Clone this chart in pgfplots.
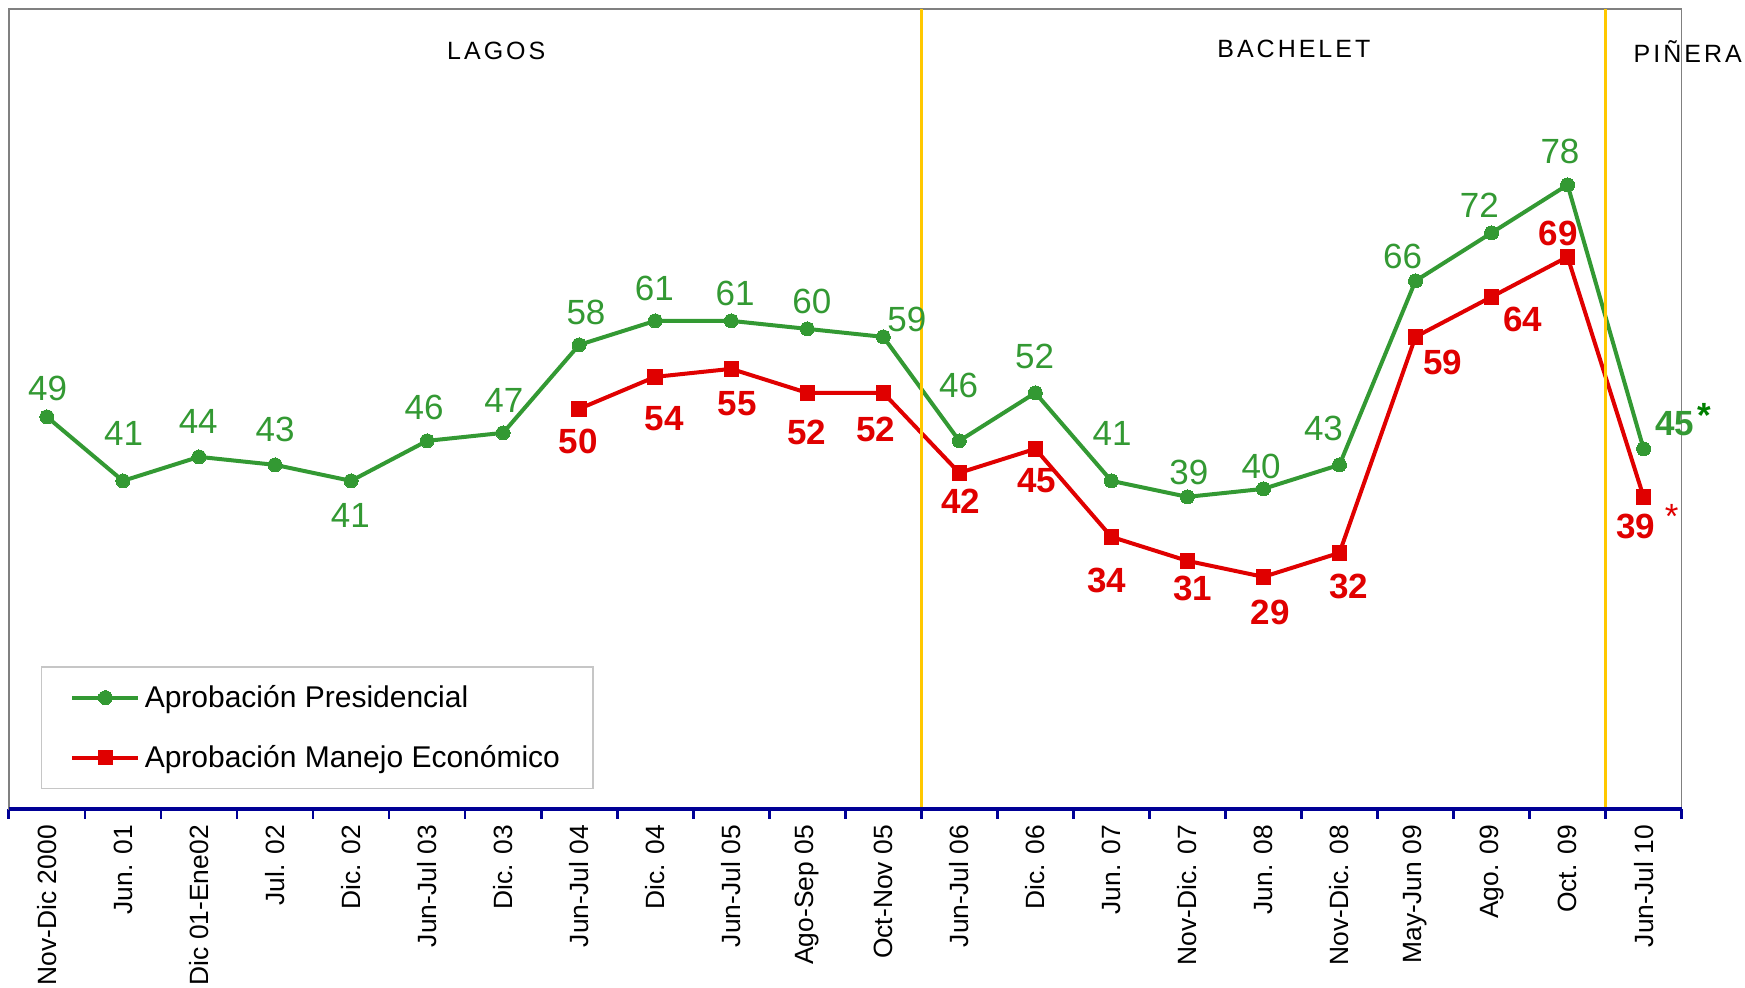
\documentclass[border=0pt]{standalone}
\usepackage{pgfplots}
\pgfplotsset{compat=1.18}
\usepackage{fontspec}
\setmainfont{Liberation Sans}
\newfontfamily\spaced[LetterSpace=12]{Liberation Sans}
\definecolor{cgreen}{RGB}{51,153,51}
\definecolor{cred}{RGB}{224,0,0}
\definecolor{cblue}{RGB}{0,0,150}
\definecolor{cyellow}{RGB}{255,200,0}
\definecolor{cdkgreen}{RGB}{0,128,0}
\tikzset{
  gl/.style={text=cgreen, font=\fontsize{17.5}{20}\selectfont, inner sep=0pt},
  rl/.style={text=cred, font=\fontsize{17.5}{20}\selectfont\bfseries, inner sep=0pt},
  tl/.style={text=black, font=\fontsize{12.5}{15}\selectfont\spaced, inner sep=0pt}
}
\begin{document}
\begin{tikzpicture}
\begin{axis}[name=ax, scale only axis, width=836.4pt, height=400pt,
  xmin=-0.5, xmax=21.5, ymin=0, ymax=100, clip=false,
  axis line style={draw=gray, line width=0.8pt},
  ytick=\empty,
  xtick={0,...,21},
  xticklabels={Nov-Dic 2000, Jun. 01, Dic 01-Ene02, Jul. 02, Dic. 02, Jun-Jul 03, Dic. 03, Jun-Jul 04, Dic. 04, Jun-Jul 05, Ago-Sep 05, Oct-Nov 05, Jun-Jul 06, Dic. 06, Jun. 07, Nov-Dic. 07, Jun. 08, Nov-Dic. 08, May-Jun 09, Ago. 09, Oct. 09, Jun-Jul 10},
  minor xtick={-0.5,0.5,...,21.5},
  tick align=outside, xtick pos=lower,
  major tick length=0pt, minor tick length=5pt,
  minor tick style={cblue, line width=1.4pt},
  xticklabel style={rotate=90, anchor=east, inner sep=0pt, font=\fontsize{13.2}{15}\selectfont},
  xticklabel shift=8pt,
  legend style={at={(axis description cs:0.0193,0.025)}, anchor=south west,
    draw=gray!45, line width=0.6pt, font=\fontsize{15}{18}\selectfont,
    inner xsep=14.3pt, inner ysep=8pt, row sep=15.5pt,
    nodes={inner xsep=2.2pt, inner ysep=1pt}},
  legend cell align=left,
  legend image code/.code={\draw[mark repeat=2,mark phase=2,#1] plot coordinates {(0pt,0pt) (16.5pt,0pt) (33pt,0pt)};},
]
\addplot[cgreen, line width=2pt, mark=*, mark size=3.5pt, mark options={solid, fill=cgreen, draw=cgreen, line width=0pt}]
coordinates {(0,49) (1,41) (2,44) (3,43) (4,41) (5,46) (6,47) (7,58) (8,61) (9,61) (10,60) (11,59) (12,46) (13,52) (14,41) (15,39) (16,40) (17,43) (18,66) (19,72) (20,78) (21,45)};
\addlegendentry{Aprobación Presidencial}
\addplot[cred, line width=2pt, mark=square*, mark size=3.6pt, mark options={solid, fill=cred, draw=cred, line width=0pt}]
coordinates {(7,50) (8,54) (9,55) (10,52) (11,52) (12,42) (13,45) (14,34) (15,31) (16,29) (17,32) (18,59) (19,64) (20,69) (21,39)};
\addlegendentry{Aprobación Manejo Económico}
\addplot[cyellow, line width=1.7pt, forget plot] coordinates {(11.5,0) (11.5,100)};
\addplot[cyellow, line width=1.7pt, forget plot] coordinates {(20.5,0) (20.5,100)};
\draw[cblue, line width=1.7pt] (rel axis cs:0,0) -- (rel axis cs:1,0);
% green labels
\node[gl] at (axis cs:0.01,52.6) {49};
\node[gl] at (axis cs:1.01,46.9) {41};
\node[gl] at (axis cs:1.99,48.4) {44};
\node[gl] at (axis cs:3.0,47.4) {43};
\node[gl] at (axis cs:3.99,36.7) {41};
\node[gl] at (axis cs:4.96,50.2) {46};
\node[gl] at (axis cs:6.01,51.0) {47};
\node[gl] at (axis cs:7.09,62.0) {58};
\node[gl] at (axis cs:7.99,65.0) {61};
\node[gl] at (axis cs:9.05,64.4) {61};
\node[gl] at (axis cs:10.06,63.4) {60};
\node[gl] at (axis cs:11.31,61.2) {59};
\node[gl] at (axis cs:11.99,52.9) {46};
\node[gl] at (axis cs:12.99,56.6) {52};
\node[gl] at (axis cs:14.01,46.9) {41};
\node[gl] at (axis cs:15.02,42.0) {39};
\node[gl] at (axis cs:15.97,42.8) {40};
\node[gl] at (axis cs:16.79,47.6) {43};
\node[gl] at (axis cs:17.83,69.0) {66};
\node[gl] at (axis cs:18.84,75.4) {72};
\node[gl] at (axis cs:19.9,82.2) {78};
\node[gl, font=\fontsize{17.5}{20}\selectfont\bfseries] at (axis cs:21.41,48.1) {45};
\node[text=cdkgreen, font=\fontsize{17.5}{20}\selectfont\bfseries, inner sep=0pt] at (axis cs:21.8,49.2) {*};
% red labels
\node[rl] at (axis cs:6.99,45.9) {50};
\node[rl] at (axis cs:8.12,48.8) {54};
\node[rl] at (axis cs:9.08,50.6) {55};
\node[rl] at (axis cs:9.99,47.1) {52};
\node[rl] at (axis cs:10.9,47.4) {52};
\node[rl] at (axis cs:12.02,38.5) {42};
\node[rl] at (axis cs:13.02,41.0) {45};
\node[rl] at (axis cs:13.94,28.5) {34};
\node[rl] at (axis cs:15.07,27.5) {31};
\node[rl] at (axis cs:16.09,24.5) {29};
\node[rl] at (axis cs:17.12,27.8) {32};
\node[rl] at (axis cs:18.36,55.8) {59};
\node[rl] at (axis cs:19.41,61.2) {64};
\node[rl] at (axis cs:19.88,71.9) {69};
\node[rl] at (axis cs:20.9,35.3) {39};
\node[text=cred, font=\fontsize{17.5}{20}\selectfont, inner sep=0pt] at (axis cs:21.37,36.6) {*};
% period labels
\node[tl] at (axis cs:5.91,94.7) {LAGOS};
\node[tl] at (axis cs:16.4,95.0) {BACHELET};
\node[tl] at (axis cs:21.58,94.7) {PIÑERA};
\end{axis}
\pgfresetboundingbox
\path[use as bounding box] ([xshift=-4.45pt,yshift=-89.5pt]ax.south west) rectangle ([xshift=31.7pt,yshift=4.45pt]ax.north east);
\end{tikzpicture}
\end{document}
